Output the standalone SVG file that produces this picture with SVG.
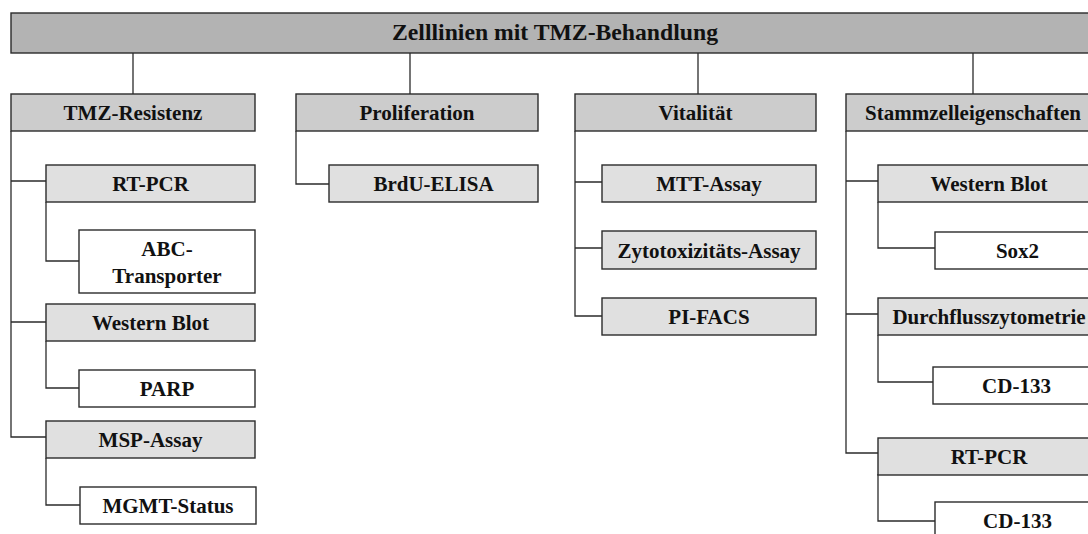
<svg xmlns="http://www.w3.org/2000/svg" width="1088" height="534" viewBox="0 0 1088 534">
<style>
.b{stroke:#2b2b2b;stroke-width:1.4}
.l0{fill:#b3b3b3}
.l1{fill:#cccccc}
.l2{fill:#e0e0e0}
.l3{fill:#ffffff}
text{font-family:"Liberation Serif","Times New Roman",serif;font-weight:bold;font-size:21px;fill:#111;text-anchor:middle}
.t0{font-size:23.7px}
.c{fill:none;stroke:#2b2b2b;stroke-width:1.3}
</style>
<rect width="1088" height="534" fill="#ffffff"/>
<g id="connectors" class="c">
<path d="M133,53V94M410,53V94M698,53V94M973,53V94"/>
<path d="M11,131V437H46M11,181H46M11,322H46"/>
<path d="M46,202V261H79M46,341V388H79M46,458V505H80"/>
<path d="M296,131V184H329"/>
<path d="M575,131V316H602M575,182H602M575,248H602"/>
<path d="M846,131V453H878M846,181H878M846,314H878"/>
<path d="M878,202V248H935M878,335V382H933M878,474V521H935"/>
</g>
<g id="root"><rect class="b l0" x="11" y="13" width="1088" height="40"/><text class="t0" x="555" y="40">Zelllinien mit TMZ-Behandlung</text></g>
<g id="tmz"><rect class="b l1" x="11" y="94" width="244" height="37"/><text x="133" y="120">TMZ-Resistenz</text></g>
<g id="tmz-rtpcr"><rect class="b l2" x="46" y="165" width="209" height="37"/><text x="150.5" y="191">RT-PCR</text></g>
<g id="abc"><rect class="b l3" x="79" y="230" width="176" height="63"/><text x="167" y="256">ABC-</text><text x="167" y="283">Transporter</text></g>
<g id="tmz-wb"><rect class="b l2" x="46" y="304" width="209" height="37"/><text x="150.5" y="330">Western Blot</text></g>
<g id="parp"><rect class="b l3" x="79" y="370" width="176" height="37"/><text x="167" y="396">PARP</text></g>
<g id="msp"><rect class="b l2" x="46" y="421" width="209" height="37"/><text x="150.5" y="447">MSP-Assay</text></g>
<g id="mgmt"><rect class="b l3" x="80" y="487" width="176" height="37"/><text x="168" y="513">MGMT-Status</text></g>
<g id="prolif"><rect class="b l1" x="296" y="94" width="242" height="37"/><text x="417" y="120">Proliferation</text></g>
<g id="brdu"><rect class="b l2" x="329" y="165" width="209" height="37"/><text x="433.5" y="191">BrdU-ELISA</text></g>
<g id="vital"><rect class="b l1" x="575" y="94" width="241" height="37"/><text x="695.5" y="120">Vitalität</text></g>
<g id="mtt"><rect class="b l2" x="602" y="165" width="214" height="37"/><text x="709" y="191">MTT-Assay</text></g>
<g id="zyto"><rect class="b l2" x="602" y="231" width="214" height="38"/><text x="709" y="257.5">Zytotoxizitäts-Assay</text></g>
<g id="pifacs"><rect class="b l2" x="602" y="298" width="214" height="37"/><text x="709" y="324">PI-FACS</text></g>
<g id="stamm"><rect class="b l1" x="846" y="94" width="254" height="37"/><text x="973" y="120">Stammzelleigenschaften</text></g>
<g id="stamm-wb"><rect class="b l2" x="878" y="165" width="222" height="37"/><text x="989" y="191">Western Blot</text></g>
<g id="sox2"><rect class="b l3" x="935" y="232" width="165" height="37"/><text x="1017.5" y="258">Sox2</text></g>
<g id="durch"><rect class="b l2" x="878" y="298" width="222" height="37"/><text x="989" y="324">Durchflusszytometrie</text></g>
<g id="cd133a"><rect class="b l3" x="933" y="367" width="167" height="37"/><text x="1016.5" y="393">CD-133</text></g>
<g id="stamm-rtpcr"><rect class="b l2" x="878" y="438" width="222" height="37"/><text x="989" y="464">RT-PCR</text></g>
<g id="cd133b"><rect class="b l3" x="935" y="502" width="165" height="37"/><text x="1017.5" y="528">CD-133</text></g>
</svg>
